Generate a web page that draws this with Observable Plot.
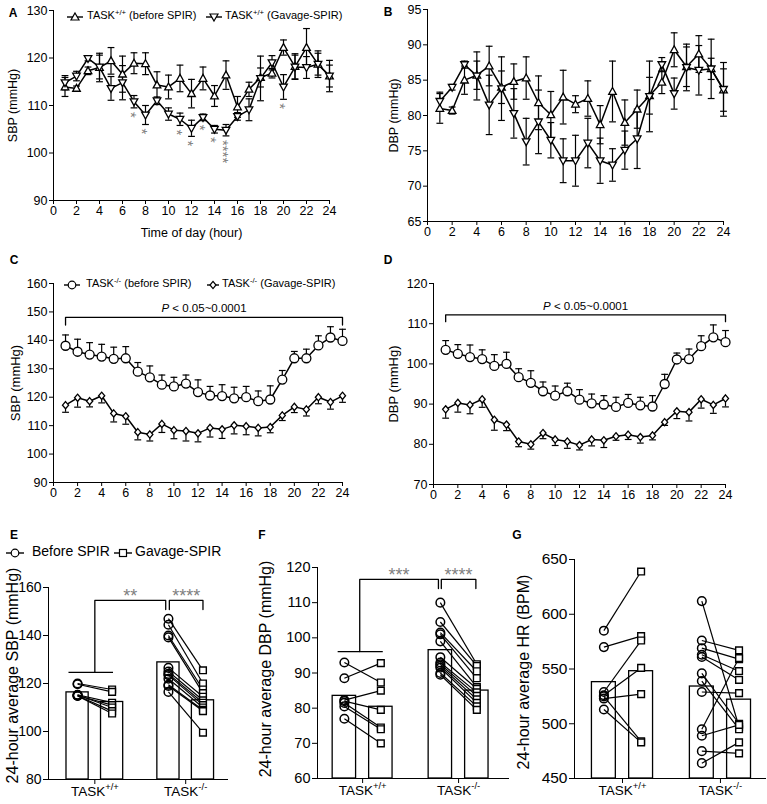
<!DOCTYPE html>
<html>
<head>
<meta charset="utf-8">
<script src="https://cdn.jsdelivr.net/npm/d3@7"></script>
<script src="https://cdn.jsdelivr.net/npm/@observablehq/plot@0.6"></script>
<style>
  body { margin: 0; background: #fff; }
  #root { position: relative; width: 767px; height: 804px; overflow: hidden; background: #fff;
          font-family: Arial, "Liberation Sans", Helvetica, sans-serif; color: #000; }
  .panel { position: absolute; }
  .panel svg { display: block; }
  .letter { position: absolute; font-weight: bold; font-size: 12px; line-height: 1; transform: translate(-50%, -50%); }
  .legtxt { position: absolute; white-space: nowrap; line-height: 1; transform: translateY(-50%); }
  .legtxt sup { font-size: 0.7em; vertical-align: 0.5em; line-height: 0; }
  .legmk { position: absolute; }
</style>
</head>
<body>
<div id="root"></div>
<script>
// ================= DATA =================
const hours = [1,2,3,4,5,6,7,8,9,10,11,12,13,14,15,16,17,18,19,20,21,22,23,24];
const hourTicks = [0,2,4,6,8,10,12,14,16,18,20,22,24];

// Panel A: SBP, TASK+/+
const A_before    = [113.9,113.6,117.3,118.0,119.4,116.6,118.9,118.8,114.3,113.9,115.7,112.5,115.7,112.0,116.4,109.7,113.4,115.9,116.8,122.2,118.2,122.2,118.7,116.2];
const A_beforeErr = [2.0,0.5,0.8,3.0,2.8,3.8,2.2,2.3,2.8,2.5,2.8,3.0,2.4,2.2,3.0,2.2,1.5,2.0,1.0,1.6,2.7,4.0,2.3,3.3];
const A_gavage    = [114.8,116.2,119.9,118.1,113.6,114.8,110.8,108.0,111.0,108.2,107.1,105.2,107.5,105.0,104.8,107.7,109.1,115.7,119.0,113.9,118.1,118.0,118.7,116.2];
const A_gavageErr = [1.5,1.0,0.5,2.5,2.5,3.6,1.3,2.0,0.8,1.3,1.3,1.7,0.7,0.8,1.2,0.8,2.3,4.7,1.5,2.6,2.5,2.3,2.8,2.3];
const A_yTicks = [90,100,110,120,130];
const A_sigHours = [7,8,11,12,13,14,15,20];
const A_sigStars = ["*","*","*","*","*","*","****","*"];

// Panel B: DBP, TASK+/+
const B_before    = [81.0,80.7,85.0,85.7,87.0,84.0,84.8,85.3,81.8,80.1,82.6,81.6,82.4,78.7,83.4,79.0,80.9,82.8,84.7,89.3,86.9,88.7,86.6,83.6];
const B_beforeErr = [2.1,0.5,2.0,2.0,2.8,2.3,2.5,3.0,3.8,3.3,3.8,1.2,2.5,2.7,4.3,3.2,2.7,2.6,1.6,2.4,2.8,2.6,1.5,3.0];
const B_gavage    = [82.0,84.0,87.2,85.6,81.5,83.8,80.3,76.3,79.1,76.5,73.6,73.6,76.1,73.6,73.0,75.1,76.7,82.7,87.2,83.1,86.8,86.4,86.6,83.7];
const B_gavageErr = [1.3,0.4,0.5,3.4,4.2,4.5,3.5,3.3,4.5,2.5,3.1,3.6,3.5,3.2,2.3,2.7,4.2,5.0,1.0,2.2,3.3,3.5,4.2,3.8];
const B_yTicks = [65,70,75,80,85,90,95];

// Panel C: SBP, TASK-/-
const C_before    = [138.1,136.0,135.0,134.3,133.5,133.7,129.0,127.0,124.4,123.8,124.8,121.8,120.6,120.4,119.6,120.0,118.6,119.2,126.2,133.7,133.7,138.2,141.0,139.8];
const C_beforeErr = [3.8,4.4,4.2,4.3,4.1,4.1,3.2,4.0,3.4,3.2,3.0,4.3,3.2,4.0,3.9,3.8,3.6,4.8,3.2,2.4,3.2,3.4,3.8,4.1];
const C_gavage    = [117.2,119.8,118.6,120.5,114.3,113.3,107.7,106.9,110.6,108.4,108.1,107.3,109.2,108.7,110.1,109.8,109.2,109.5,113.6,116.6,115.7,120.0,118.3,120.5];
const C_gavageErr = [2.5,3.3,2.0,2.5,3.0,2.8,2.7,2.3,3.0,3.0,3.5,3.0,3.2,3.2,3.0,3.0,2.8,2.0,1.8,2.0,2.3,2.3,2.5,2.3];
const C_yTicks = [90,100,110,120,130,140,150,160];

// Panel D: DBP, TASK-/-
const D_before    = [103.5,102.5,101.7,101.2,99.5,100.0,96.7,95.3,93.2,92.1,93.2,91.1,90.2,89.9,89.3,90.3,89.7,89.4,95.0,101.1,101.2,104.4,106.6,105.4];
const D_beforeErr = [2.3,2.3,3.0,2.3,2.8,2.9,2.1,3.0,2.3,2.4,2.0,2.5,2.3,2.2,2.4,2.1,2.0,2.7,2.4,1.6,2.5,2.6,3.1,2.9];
const D_gavage    = [88.7,90.3,89.8,91.2,86.1,84.9,80.7,80.0,82.8,81.2,80.7,79.8,81.2,81.0,82.0,82.4,81.8,82.2,85.5,88.2,88.0,91.2,89.8,91.4];
const D_gavageErr = [2.2,2.3,2.2,2.0,2.6,1.5,1.3,1.2,1.4,1.5,1.7,1.2,1.6,1.8,1.0,1.2,1.5,1.1,0.8,1.8,2.2,2.2,2.1,2.1];
const D_yTicks = [70,80,90,100,110,120];
const pLabel = "P < 0.05~0.0001";

// Panels E-G: 24-hour averages
const groups = ["TASK+/+", "TASK-/-"];
const E_before = [[120.0,119.7,115.3,115.0,115.2,114.9,114.8],
                  [147.0,144.5,140.0,139.2,126.5,125.0,124.0,123.5,122.0,119.5,119.0,116.5]];
const E_gavage = [[117.5,116.5,112.0,111.0,110.0,108.5,107.5],
                  [125.5,120.0,117.5,116.0,114.5,113.0,112.0,111.0,110.0,109.0,108.5,99.5]];
const E_bars = [[116.3,112.3],[128.8,113.0]];
const E_yTicks = [80,100,120,140,160];

const F_before = [[93.0,88.5,82.3,82.0,81.5,80.5,77.0],
                  [110.0,104.5,101.5,101.0,99.0,94.5,93.0,92.5,92.0,91.5,90.0,89.5]];
const F_gavage = [[87.3,92.8,85.0,79.5,74.5,74.0,70.0],
                  [92.5,92.0,90.5,88.5,86.0,85.5,84.5,83.5,82.5,81.5,80.5,79.5]];
const F_bars = [[83.5,80.4],[96.5,85.0]];
const F_yTicks = [60,70,80,90,100,110,120];

const G_before = [[585,570,529,526,523,525,513],
                  [612,576,569,563,561,546,539,529,495,489,475,464]];
const G_gavage = [[639,580,576,551,527,484,483],
                  [497,567,559,548,540,500,495,528,560,499,473,483]];
const G_bars = [[538,548],[534,522]];
const G_yTicks = [450,500,550,600,650];

// significance brackets (group position units: 1 = TASK+/+, 2 = TASK-/-)
const E_baseLine = {x1: 0.71, x2: 1.2, y: 124.6};
const E_brackets = [{from: 1.0, to: 1.78, top: 154.6, leftBase: 124.6, rightBase: 150.8, label: "**"},
                    {from: 1.82, to: 2.19, top: 154.6, leftBase: 150.8, rightBase: 150.8, label: "****"}];
const F_baseLine = {x1: 0.74, x2: 1.21, y: 96.1};
const F_brackets = [{from: 0.97, to: 1.79, top: 116.6, leftBase: 96.1, rightBase: 114.0, label: "***"},
                    {from: 1.82, to: 2.18, top: 116.6, leftBase: 114.0, rightBase: 114.0, label: "****"}];

// ================= HELPERS =================
const FONT = 'Arial, "Liberation Sans", Helvetica, sans-serif';
const root = document.getElementById("root");
const SVGNS = "http://www.w3.org/2000/svg";

const triUp = {draw(ctx, size) { const s = Math.sqrt(size / Math.PI);
  ctx.moveTo(0, -s * 1.05); ctx.lineTo(s * 1.0, s * 0.75); ctx.lineTo(-s * 1.0, s * 0.75); ctx.closePath(); }};
const triDown = {draw(ctx, size) { const s = Math.sqrt(size / Math.PI);
  ctx.moveTo(0, s * 1.05); ctx.lineTo(s * 1.0, -s * 0.75); ctx.lineTo(-s * 1.0, -s * 0.75); ctx.closePath(); }};
const diamondSym = {draw(ctx, size) { const s = Math.sqrt(size / Math.PI);
  ctx.moveTo(0, -s); ctx.lineTo(s * 0.85, 0); ctx.lineTo(0, s); ctx.lineTo(-s * 0.85, 0); ctx.closePath(); }};
const capSym = {draw(ctx, size) { const s = Math.sqrt(size / Math.PI);
  ctx.moveTo(-s, 0); ctx.lineTo(s, 0); }};

function ts(vals, errs) { return hours.map((h, i) => ({h, v: vals[i], e: errs[i]})); }

function errMarks(d, dir) {
  const lo = dir === "up" ? (p => p.v) : (p => p.v - p.e);
  const hi = dir === "down" ? (p => p.v) : (p => p.v + p.e);
  const out = [Plot.ruleX(d, {x: "h", y1: lo, y2: hi, stroke: "#000", strokeWidth: 1.2})];
  if (dir !== "down") out.push(Plot.dot(d, {x: "h", y: p => p.v + p.e, symbol: capSym, r: 3.4, stroke: "#000", strokeWidth: 1.2, fill: "none"}));
  if (dir !== "up") out.push(Plot.dot(d, {x: "h", y: p => p.v - p.e, symbol: capSym, r: 3.4, stroke: "#000", strokeWidth: 1.2, fill: "none"}));
  return out;
}

function fixText(svg) {
  svg.querySelectorAll("text").forEach(t => {
    const nodes = t.querySelector("tspan") ? Array.from(t.querySelectorAll("tspan")) : [t];
    nodes.forEach(n => {
      const s = n.textContent;
      let m = s.match(/^(.*TASK)([+\-]\/[+\-])(.*)$/);
      if (m) {
        n.textContent = "";
        const a = document.createElementNS(SVGNS, "tspan"); a.textContent = m[1]; n.appendChild(a);
        const b = document.createElementNS(SVGNS, "tspan"); b.textContent = m[2];
        b.setAttribute("font-size", "70%"); b.setAttribute("dy", "-0.6em"); n.appendChild(b);
        return;
      }
      m = s.match(/^P( < .*)$/);
      if (m) {
        n.textContent = "";
        const a = document.createElementNS(SVGNS, "tspan"); a.textContent = "P"; a.setAttribute("font-style", "italic"); n.appendChild(a);
        const b = document.createElementNS(SVGNS, "tspan"); b.textContent = m[1]; n.appendChild(b);
      }
    });
  });
}

function place(el, left, top) {
  const d = document.createElement("div");
  d.className = "panel"; d.style.left = left + "px"; d.style.top = top + "px";
  d.appendChild(el); root.appendChild(d); return d;
}

function yTitle(label, offset, size, shift) {
  return Plot.text([label], {frameAnchor: "left", rotate: -90, dx: -offset, dy: shift || 0, text: d => d, fontSize: size,
    textAnchor: "middle", lineAnchor: "middle"});
}

function timePanel(cfg) {
  const b = ts(cfg.before, cfg.beforeErr), g = ts(cfg.gavage, cfg.gavageErr);
  const marks = [];
  marks.push(...errMarks(b, cfg.beforeDir), ...errMarks(g, cfg.gavageDir));
  marks.push(Plot.line(b, {x: "h", y: "v", stroke: "#000", strokeWidth: 1.5}));
  marks.push(Plot.line(g, {x: "h", y: "v", stroke: "#000", strokeWidth: 1.5}));
  marks.push(Plot.dot(b, {x: "h", y: "v", symbol: cfg.beforeSym, r: cfg.beforeR, fill: "#fff", stroke: "#000", strokeWidth: 1.3}));
  marks.push(Plot.dot(g, {x: "h", y: "v", symbol: cfg.gavageSym, r: cfg.gavageR, fill: "#fff", stroke: "#000", strokeWidth: 1.3}));
  if (cfg.sig) {
    const sd = cfg.sig.hours.map((h, i) => ({h, y: cfg.gavage[h - 1] - cfg.gavageErr[h - 1], t: cfg.sig.stars[i]}));
    // stars stacked vertically: text rotated so that the characters run downward
    marks.push(Plot.text(sd, {x: "h", y: "y", text: "t", rotate: 90, textAnchor: "start", lineAnchor: "middle",
      dx: -3.6, dy: 4, fill: "#808080", fontSize: 15}));
  }
  if (cfg.bracket) {
    const k = cfg.bracket;
    const pts = [{x: k.from, y: k.base}, {x: k.from, y: k.top}, {x: k.to, y: k.top}, {x: k.to, y: k.base}];
    marks.push(Plot.line(pts, {x: "x", y: "y", stroke: "#000", strokeWidth: 1.3}));
    marks.push(Plot.text([{x: (k.from + k.to) / 2, y: k.top, t: k.label}], {x: "x", y: "y", text: "t", dy: -9, fontSize: 11.5}));
  }
  marks.push(yTitle(cfg.yLabel, cfg.ylo, cfg.titleSize, cfg.titleShift));
  if (cfg.xLabel) marks.push(Plot.text([cfg.xLabel], {frameAnchor: "bottom", dy: 32, text: d => d, fontSize: cfg.titleSize,
    textAnchor: "middle", lineAnchor: "middle"}));
  const svg = Plot.plot({
    width: cfg.width, height: cfg.height,
    marginLeft: cfg.ml, marginRight: cfg.mr, marginTop: cfg.mt, marginBottom: cfg.mb,
    style: {fontFamily: FONT, fontSize: "12.5px", color: "#000", background: "transparent", overflow: "visible"},
    x: {domain: [0, 24], ticks: hourTicks, tickSize: 4, tickPadding: 2, line: true, label: null},
    y: {domain: cfg.yDomain, ticks: cfg.yTicks, tickSize: 4, tickPadding: 2, line: true, label: null},
    marks
  });
  fixText(svg);
  place(svg, cfg.left, cfg.top);
}

function barPanel(cfg) {
  const off = 0.19, hw = 0.122;
  const bars = [], circ = [], sq = [], links = [];
  groups.forEach((gname, gi) => {
    const c = gi + 1;
    bars.push({x1: c - off - hw, x2: c - off + hw, v: cfg.bars[gi][0]});
    bars.push({x1: c + off - hw, x2: c + off + hw, v: cfg.bars[gi][1]});
    cfg.before[gi].forEach((v, i) => {
      const w = cfg.gavage[gi][i];
      links.push({x1: c - off, y1: v, x2: c + off, y2: w});
      circ.push({x: c - off, v});
      sq.push({x: c + off, v: w});
    });
  });
  const y0 = cfg.yDomain[0];
  const marks = [
    Plot.rect(bars, {x1: "x1", x2: "x2", y1: () => y0, y2: "v", fill: "#fff", stroke: "#000", strokeWidth: 1.3}),
    Plot.link(links, {x1: "x1", y1: "y1", x2: "x2", y2: "y2", stroke: "#000", strokeWidth: 1.2}),
    Plot.dot(circ, {x: "x", y: "v", r: 4.3, fill: "none", stroke: "#000", strokeWidth: 1.5}),
    Plot.dot(sq, {x: "x", y: "v", symbol: "square", r: 3.8, fill: "#fff", stroke: "#000", strokeWidth: 1.4})
  ];
  if (cfg.baseLine) {
    const L = cfg.baseLine;
    marks.push(Plot.link([L], {x1: "x1", x2: "x2", y1: "y", y2: "y", stroke: "#000", strokeWidth: 1.3}));
  }
  (cfg.brackets || []).forEach(k => {
    const pts = [{x: k.from, y: k.leftBase}, {x: k.from, y: k.top}, {x: k.to, y: k.top}, {x: k.to, y: k.rightBase}];
    marks.push(Plot.line(pts, {x: "x", y: "y", stroke: "#000", strokeWidth: 1.3}));
    marks.push(Plot.text([{x: (k.from + k.to) / 2, y: k.top, t: k.label}], {x: "x", y: "y", text: "t", dy: -4, fill: "#808080", fontSize: 18}));
  });
  marks.push(yTitle(cfg.yLabel, cfg.ylo, 16, cfg.titleShift));
  const svg = Plot.plot({
    width: cfg.width, height: cfg.height,
    marginLeft: cfg.ml, marginRight: cfg.mr, marginTop: cfg.mt, marginBottom: cfg.mb,
    style: {fontFamily: FONT, fontSize: cfg.tickSize + "px", color: "#000", background: "transparent", overflow: "visible"},
    x: {domain: cfg.xDomain, ticks: [1, 2], tickFormat: i => groups[i - 1], tickSize: 5, tickPadding: 2, line: true, label: null},
    y: {domain: cfg.yDomain, ticks: cfg.yTicks, tickSize: 5, tickPadding: 2, line: true, label: null},
    marks
  });
  svg.querySelectorAll("text").forEach(t => { if (/^TASK/.test(t.textContent)) t.setAttribute("font-size", "13.5px"); });
  fixText(svg);
  place(svg, cfg.left, cfg.top);
}

// ================= PANELS =================
timePanel({left: 0, top: 0, width: 380, height: 245, ml: 53, mr: 51, mt: 10, mb: 45,
  before: A_before, beforeErr: A_beforeErr, gavage: A_gavage, gavageErr: A_gavageErr,
  beforeDir: "both", gavageDir: "both", beforeSym: triUp, gavageSym: triDown, beforeR: 3.8, gavageR: 3.8,
  yDomain: [90, 130], yTicks: A_yTicks, yLabel: "SBP (mmHg)", ylo: 41, titleSize: 12.5, xLabel: "Time of day (hour)",
  sig: {hours: A_sigHours, stars: A_sigStars}});

timePanel({left: 380, top: 0, width: 387, height: 245, ml: 47, mr: 44, mt: 9, mb: 24,
  before: B_before, beforeErr: B_beforeErr, gavage: B_gavage, gavageErr: B_gavageErr,
  beforeDir: "both", gavageDir: "both", beforeSym: triUp, gavageSym: triDown, beforeR: 3.8, gavageR: 3.8,
  yDomain: [65, 95], yTicks: B_yTicks, yLabel: "DBP (mmHg)", ylo: 34, titleSize: 12.5});

timePanel({left: 0, top: 240, width: 380, height: 272, ml: 53, mr: 38, mt: 43, mb: 30,
  before: C_before, beforeErr: C_beforeErr, gavage: C_gavage, gavageErr: C_gavageErr,
  beforeDir: "up", gavageDir: "down", beforeSym: "circle", gavageSym: diamondSym, beforeR: 4.5, gavageR: 3.6,
  yDomain: [90, 160], yTicks: C_yTicks, yLabel: "SBP (mmHg)", ylo: 38, titleSize: 13,
  bracket: {from: 1, to: 24, top: 148.1, base: 145.4, label: pLabel}});

timePanel({left: 380, top: 240, width: 387, height: 272, ml: 53, mr: 42, mt: 43, mb: 28,
  before: D_before, beforeErr: D_beforeErr, gavage: D_gavage, gavageErr: D_gavageErr,
  beforeDir: "up", gavageDir: "down", beforeSym: "circle", gavageSym: diamondSym, beforeR: 4.5, gavageR: 3.6,
  yDomain: [70, 120], yTicks: D_yTicks, yLabel: "DBP (mmHg)", ylo: 40, titleSize: 13,
  bracket: {from: 1, to: 24, top: 112.2, base: 110.5, label: pLabel}});

barPanel({left: 0, top: 520, width: 255, height: 284, ml: 48, mr: 28, mt: 67, mb: 25, tickSize: 14,
  before: E_before, gavage: E_gavage, bars: E_bars, xDomain: [0.49, 2.46],
  yDomain: [80, 160], yTicks: E_yTicks, yLabel: "24-hour average SBP (mmHg)", ylo: 36, titleShift: -8,
  baseLine: E_baseLine, brackets: E_brackets});

barPanel({left: 255, top: 520, width: 257, height: 284, ml: 62, mr: 4, mt: 47, mb: 26, tickSize: 14.5,
  before: F_before, gavage: F_gavage, bars: F_bars, xDomain: [0.53, 2.52],
  yDomain: [60, 120], yTicks: F_yTicks, yLabel: "24-hour average DBP (mmHg)", ylo: 52, titleShift: -4,
  baseLine: F_baseLine, brackets: F_brackets});

barPanel({left: 512, top: 520, width: 255, height: 284, ml: 62, mr: 2, mt: 39, mb: 26, tickSize: 15.5,
  before: G_before, gavage: G_gavage, bars: G_bars, xDomain: [0.51, 2.46],
  yDomain: [450, 650], yTicks: G_yTicks, yLabel: "24-hour average HR (BPM)", ylo: 51, titleShift: 3});

// ================= LETTERS & LEGENDS =================
[["A", 13, 13], ["B", 388, 12], ["C", 14, 260], ["D", 388, 260], ["E", 14, 535], ["F", 262, 535], ["G", 517, 535]]
  .forEach(([t, x, y]) => { const d = document.createElement("div"); d.className = "letter";
    d.style.left = x + "px"; d.style.top = y + "px"; d.textContent = t; root.appendChild(d); });

function marker(kind, cx, cy, len) {
  const w = len, h = 12;
  let shape = "";
  const m = w / 2, c = h / 2;
  if (kind === "up") shape = `<polygon points="${m},${c-4} ${m+4},${c+3} ${m-4},${c+3}" fill="#fff" stroke="#000" stroke-width="1.2"/>`;
  if (kind === "down") shape = `<polygon points="${m},${c+4} ${m+4},${c-3} ${m-4},${c-3}" fill="#fff" stroke="#000" stroke-width="1.2"/>`;
  if (kind === "circle") shape = `<circle cx="${m}" cy="${c}" r="3.8" fill="#fff" stroke="#000" stroke-width="1.2"/>`;
  if (kind === "diamond") shape = `<polygon points="${m},${c-3.6} ${m+3},${c} ${m},${c+3.6} ${m-3},${c}" fill="#fff" stroke="#000" stroke-width="1.2"/>`;
  if (kind === "square") shape = `<rect x="${m-3.5}" y="${c-3.5}" width="7" height="7" fill="#fff" stroke="#000" stroke-width="1.2"/>`;
  const d = document.createElement("div"); d.className = "legmk";
  d.style.left = (cx - w / 2) + "px"; d.style.top = (cy - h / 2) + "px";
  d.innerHTML = `<svg width="${w}" height="${h}"><line x1="0" y1="${c}" x2="${w}" y2="${c}" stroke="#000" stroke-width="1.4"/>${shape}</svg>`;
  root.appendChild(d);
}
function legText(html, x, y, size) {
  const d = document.createElement("div"); d.className = "legtxt";
  d.style.left = x + "px"; d.style.top = y + "px"; d.style.fontSize = size + "px";
  d.innerHTML = html; root.appendChild(d);
}
marker("up", 75, 15, 16);   legText("TASK<sup>+/+</sup> (before SPIR)", 87, 15, 11);
marker("down", 214, 15, 16); legText("TASK<sup>+/+</sup> (Gavage-SPIR)", 225, 15, 11);
marker("circle", 72, 283, 16); legText("TASK<sup>-/-</sup> (before SPIR)", 86, 283, 11);
marker("diamond", 213, 283, 12); legText("TASK<sup>-/-</sup> (Gavage-SPIR)", 222, 283, 11);
marker("circle", 15, 551, 18); legText("Before SPIR", 32, 551, 14);
marker("square", 123, 551, 18); legText("Gavage-SPIR", 135, 551, 14);
</script>
</body>
</html>
